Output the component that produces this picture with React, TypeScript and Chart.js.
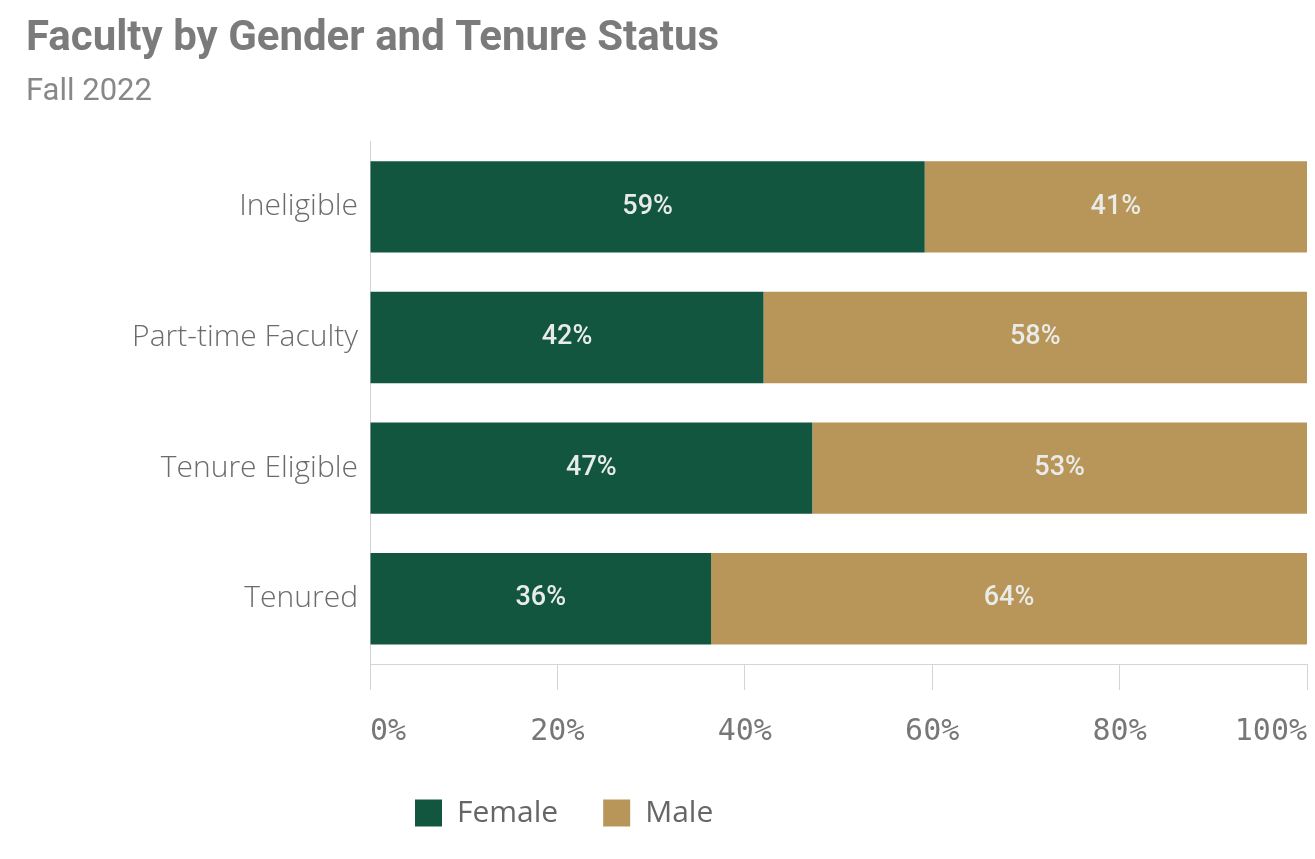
import React, { useEffect, useRef } from 'react';
import { Chart, registerables } from 'chart.js';

Chart.register(...registerables);

const categories = ['Ineligible', 'Part-time Faculty', 'Tenure Eligible', 'Tenured'];
const seriesNames = ['Female', 'Male'];
const femaleValues = [59.2, 42.0, 47.2, 36.4];
const maleValues = [40.8, 58.0, 52.8, 63.6];
const seriesColors = ['#125640', '#b89558'];
const titleText = 'Faculty by Gender and Tenure Status';
const subtitleText = 'Fall 2022';
const xMin = 0;
const xMax = 100;
const xStep = 20;

const barLabelPlugin = {
  id: 'barLabels',
  afterDatasetsDraw(chart: any) {
    const ctx = chart.ctx;
    ctx.save();
    ctx.font = '500 27px Roboto';
    ctx.fillStyle = '#e9ebe9';
    ctx.textAlign = 'center';
    ctx.textBaseline = 'middle';
    chart.data.datasets.forEach((ds: any, di: number) => {
      const meta = chart.getDatasetMeta(di);
      meta.data.forEach((el: any, i: number) => {
        const { x, y, base } = el.getProps(['x', 'y', 'base'], true);
        ctx.fillText(Math.round(ds.data[i]) + '%', (x + base) / 2, y);
      });
    });
    ctx.restore();
  },
};

export default function App() {
  const canvasRef = useRef<HTMLCanvasElement | null>(null);

  useEffect(() => {
    if (!canvasRef.current) return;
    const chart = new Chart(canvasRef.current, {
      type: 'bar',
      data: {
        labels: categories,
        datasets: [
          {
            label: seriesNames[0],
            data: femaleValues,
            backgroundColor: seriesColors[0],
            borderWidth: 0,
            barPercentage: 0.7,
            categoryPercentage: 1,
          },
          {
            label: seriesNames[1],
            data: maleValues,
            backgroundColor: seriesColors[1],
            borderWidth: 0,
            barPercentage: 0.7,
            categoryPercentage: 1,
          },
        ],
      },
      options: {
        indexAxis: 'y',
        responsive: false,
        animation: false,
        layout: { padding: { left: 26, right: 8, top: 0, bottom: 21 } },
        scales: {
          x: {
            stacked: true,
            min: xMin,
            max: xMax,
            ticks: {
              stepSize: xStep,
              align: 'inner',
              padding: 24,
              color: '#777777',
              font: { family: 'DejaVu Sans Mono', size: 30 },
              callback: (v: any) => v + '%',
            },
            grid: {
              drawOnChartArea: false,
              drawTicks: true,
              tickLength: 26,
              color: '#d4d4d4',
              lineWidth: 1,
            },
            border: { display: true, color: '#d4d4d4', width: 1 },
            afterFit: (scale: any) => {
              scale.height = 89;
              scale.paddingRight = 0;
              scale.paddingLeft = 0;
            },
          },
          y: {
            stacked: true,
            ticks: {
              padding: 4,
              color: '#6b6b6b',
              font: { family: 'Open Sans', size: 30, weight: '300' },
            },
            grid: { display: false },
            border: { display: true, color: '#d4d4d4', width: 1 },
            afterFit: (scale: any) => {
              scale.width = 344;
            },
          },
        },
        plugins: {
          title: {
            display: true,
            text: titleText,
            align: 'start',
            color: '#7b7b7b',
            font: { family: 'Roboto', size: 42, weight: 'bold' },
            padding: { top: 14, bottom: 0 },
          },
          subtitle: {
            display: true,
            text: subtitleText,
            align: 'start',
            color: '#888888',
            font: { family: 'Roboto', size: 31, weight: 'normal' },
            padding: { top: 9, bottom: 31 },
          },
          legend: {
            display: true,
            position: 'bottom',
            align: 'start',
            fullSize: false,
            labels: {
              boxWidth: 27,
              boxHeight: 27,
              padding: 45,
              color: '#666666',
              font: { family: 'Open Sans', size: 30 },
            },
          },
          tooltip: { enabled: false },
        },
      },
      plugins: [barLabelPlugin],
    } as any);
    return () => chart.destroy();
  }, []);

  return (
    <div style={{ position: 'absolute', left: 0, top: 0, width: 1315, height: 859, background: '#ffffff' }}>
      <canvas ref={canvasRef} width={1315} height={859} style={{ display: 'block', width: 1315, height: 859 }} />
    </div>
  );
}
